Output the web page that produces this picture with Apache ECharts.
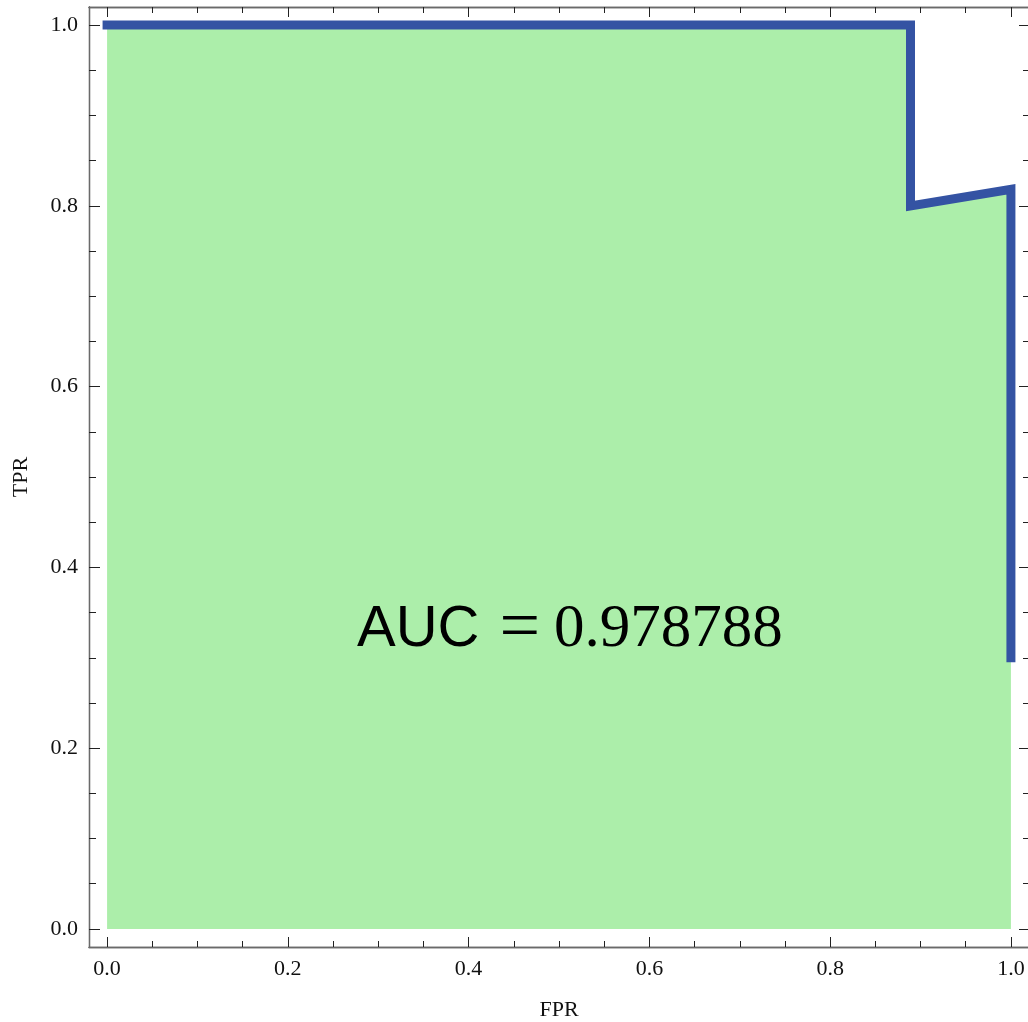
<!DOCTYPE html>
<html>
<head>
<meta charset="utf-8">
<script src="https://cdn.jsdelivr.net/npm/echarts@6/dist/echarts.min.js"></script>
<style>
  html, body { margin: 0; padding: 0; background: #ffffff; }
  #chart { width: 1028px; height: 1022px; }
</style>
</head>
<body>
<div id="chart"></div>
<script>
// ROC curve points (false positive rate, true positive rate)
const fpr = [0, 0.888889, 0.888889, 1.0, 1.0];
const tpr = [1.0, 1.0, 0.8, 0.818182, 0.3];

// Tick positions
const majorTicks = [0, 0.2, 0.4, 0.6, 0.8, 1.0];
const minorTicks = [0.05, 0.1, 0.15, 0.25, 0.3, 0.35, 0.45, 0.5, 0.55,
                    0.65, 0.7, 0.75, 0.85, 0.9, 0.95];

// Axis titles
const xTitle = 'FPR';
const yTitle = 'TPR';

// Where the AUC annotation is centred, in data units
const aucAnchor = [0.512, 0.331];

// Trapezoidal area under the curve
let auc = 0;
for (let i = 1; i < fpr.length; i++) {
  auc += (fpr[i] - fpr[i - 1]) * (tpr[i] + tpr[i - 1]) / 2;
}

const points = fpr.map((x, i) => [x, tpr[i]]);

const serif = '"Liberation Serif", "Times New Roman", serif';
const frameColor = '#6a6a6a';
const tickColor = '#222';
const RANGE = { min: -0.02, max: 1.02 };

function axis(position, ticks, length, labelled, extra) {
  return Object.assign({
    type: 'value',
    position: position,
    min: RANGE.min,
    max: RANGE.max,
    gridIndex: 0,
    splitLine: { show: false },
    axisLine: { show: true, onZero: false, lineStyle: { color: frameColor, width: 1.3 } },
    axisTick: {
      show: true, inside: true, length: length, customValues: ticks,
      lineStyle: { color: tickColor, width: 1 }
    },
    axisLabel: labelled ? {
      show: true, customValues: ticks, fontFamily: serif, fontSize: 22,
      color: '#111', margin: 11,
      formatter: v => v.toFixed(1)
    } : { show: false }
  }, extra || {});
}

const chart = echarts.init(document.getElementById('chart'), null, { renderer: 'canvas' });

chart.setOption({
  animation: false,
  backgroundColor: '#ffffff',
  grid: {
    left: 89, top: 7, width: 940, height: 940,
    containLabel: false, outerBoundsMode: 'none'
  },
  xAxis: [
    axis('bottom', majorTicks, 10, true, {
      name: xTitle, nameLocation: 'middle', nameGap: 52,
      nameTextStyle: { fontFamily: serif, fontSize: 22, color: '#111' }
    }),
    axis('bottom', minorTicks, 6, false),
    axis('top', majorTicks, 10, false),
    axis('top', minorTicks, 6, false)
  ],
  yAxis: [
    axis('left', majorTicks, 11, true, {
      name: yTitle, nameLocation: 'middle', nameGap: 57,
      nameTextStyle: { fontFamily: serif, fontSize: 22, color: '#111' }
    }),
    axis('left', minorTicks, 7, false),
    axis('right', majorTicks, 10, false),
    axis('right', minorTicks, 6, false)
  ],
  series: [
    {
      type: 'line',
      xAxisIndex: 0,
      yAxisIndex: 0,
      data: points,
      showSymbol: false,
      symbol: 'none',
      lineStyle: { color: '#3453a3', width: 9, cap: 'square', join: 'miter' },
      areaStyle: { color: '#aceeaa', opacity: 1, origin: 0 },
      z: 2,
      markPoint: {
        symbol: 'circle',
        symbolSize: 0,
        silent: true,
        data: [{ coord: aucAnchor, value: auc }],
        label: {
          show: true,
          position: 'inside',
          formatter: p => '{a|AUC}{e|=}{b|' + p.value.toFixed(6) + '}',
          rich: {
            a: { fontFamily: '"Liberation Sans", Arial, sans-serif', fontSize: 58, color: '#000' },
            e: { fontFamily: serif, fontSize: 72, color: '#000', padding: [0, 14, 0, 20] },
            b: { fontFamily: serif, fontSize: 61, color: '#000' }
          }
        }
      }
    }
  ]
});
</script>
</body>
</html>
